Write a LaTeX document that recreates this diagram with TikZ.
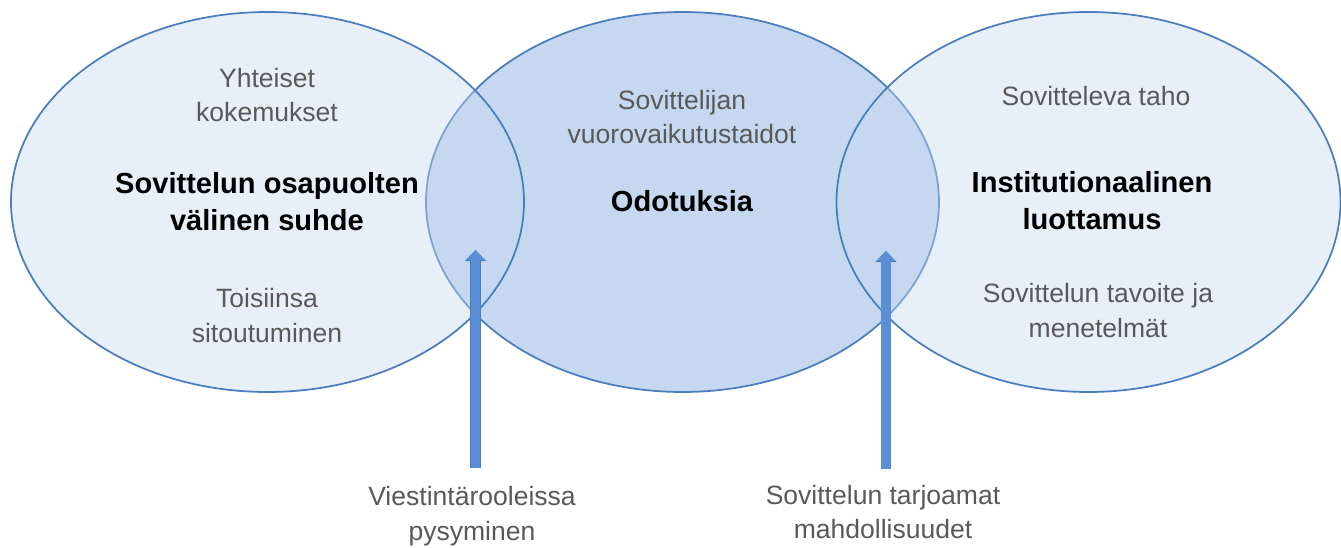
\documentclass[tikz,border=0pt]{standalone}
\usepackage{fontspec}
\setmainfont{Liberation Sans}
\usetikzlibrary{arrows.meta,shapes.geometric}
\definecolor{edge}{HTML}{4A7DC0}
\definecolor{tint}{HTML}{C5D8EF}
\definecolor{grey}{HTML}{595959}
\definecolor{arrowblue}{HTML}{5A8FD6}
\definecolor{arrowedge}{HTML}{4A7EC0}
\tikzset{
  ring/.style={ellipse,draw=edge,line width=1.3pt,minimum height=285pt,inner sep=0pt},
  core/.style={ring,fill=tint},
  side/.style={ring,fill=tint,fill opacity=0.41},
  sub/.style={font=\fontsize{19.9}{26.2}\selectfont,text=grey,align=center,inner sep=0pt},
  head/.style={font=\fontsize{21.8}{27.8}\selectfont\bfseries,text=black,align=center,inner sep=0pt},
  lift/.style={-{Triangle[width=14pt,length=7.5pt]},line width=6.8pt,draw=arrowblue,
    preaction={draw=arrowedge,line width=7.8pt,-{Triangle[width=15.5pt,length=8.3pt]}}}
}

\begin{document}
\begin{tikzpicture}[x=0.75pt,y=-0.75pt]
\useasboundingbox (0,0) rectangle (1341,548);
% circles: middle first, sides on top
\node[core,minimum width=384.75pt] (expect) at (682.5,202) {};
\node[side,minimum width=384.75pt] (relation) at (267.5,202) {};
\node[side,minimum width=378pt] (trust) at (1088.5,202) {};

% texts inside the circles
\node[sub] (shared) at (267,95) {Yhteiset\\kokemukset};
\node[head] (relhead) at (267,201.5) {Sovittelun osapuolten\\välinen suhde};
\node[sub] (commit) at (267,315.5) {Toisiinsa\\sitoutuminen};
\node[sub] (skills) at (682,117) {Sovittelijan\\vuorovaikutustaidot};
\node[head] (exphead) at (682,201) {Odotuksia};
\node[sub] (party) at (1096,96) {Sovitteleva taho};
\node[head] (trusthead) at (1092,201) {Institutionaalinen\\luottamus};
\node[sub] (goal) at (1098,310.5) {Sovittelun tavoite ja\\menetelmät};

% labels under the arrows
\node[sub] (roles) at (472,516.5) {Viestintärooleissa\\pysyminen};
\node[sub] (offers) at (883,512) {Sovittelun tarjoamat\\mahdollisuudet};

\coordinate (rolesTail) at (475.5,468);
\coordinate (rolesTip) at (475.5,250);
\coordinate (offersTail) at (886,469);
\coordinate (offersTip) at (886,251);
\draw[lift] (rolesTail) -- (rolesTip);
\draw[lift] (offersTail) -- (offersTip);
\end{tikzpicture}
\end{document}
